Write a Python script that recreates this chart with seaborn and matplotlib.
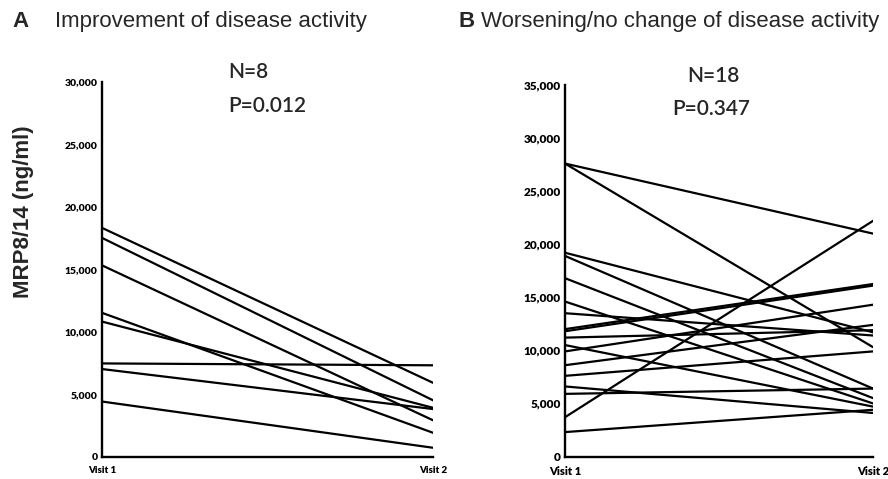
import matplotlib
matplotlib.use("Agg")
import matplotlib.pyplot as plt
import matplotlib.ticker as mticker
import seaborn as sns
import pandas as pd

# ---------------- data ----------------
visits = ["Visit 1", "Visit 2"]

a_visit1 = [18300, 17500, 15300, 11500, 10800, 7450, 7000, 4400]
a_visit2 = [5900, 4500, 2900, 1900, 3900, 7300, 3800, 700]

b_visit1 = [27600, 27600, 19200, 18900, 16800, 14600, 13500, 11800, 12000,
            11200, 10500, 9900, 8600, 7600, 6600, 5900, 3700, 2300]
b_visit2 = [21000, 10300, 11700, 6400, 5500, 5000, 11400, 16100, 16250,
            11900, 4700, 14300, 12400, 9900, 4100, 6400, 22200, 4400]

a_title = "Improvement of disease activity"
b_title = "Worsening/no change of disease activity"
a_stats = ["N=8", "P=0.012"]
b_stats = ["N=18", "P=0.347"]
y_label = "MRP8/14 (ng/ml)"
a_yticks = [0, 5000, 10000, 15000, 20000, 25000, 30000]
b_yticks = [0, 5000, 10000, 15000, 20000, 25000, 30000, 35000]


def long_df(v1, v2):
    rows = []
    for i, (p, q) in enumerate(zip(v1, v2)):
        rows.append({"subject": i, "visit": 0, "value": p})
        rows.append({"subject": i, "visit": 1, "value": q})
    return pd.DataFrame(rows)


sns.set_style("white")
plt.rcParams["font.family"] = ["Lato", "DejaVu Sans"]

W, H = 888, 479
fig = plt.figure(figsize=(W / 100, H / 100), dpi=100)


def fx(px):
    return px / W


def fy(py):
    return 1 - py / H


axA = fig.add_axes([fx(102), fy(456.5), fx(433 - 102), (456.5 - 81.7) / H])
axB = fig.add_axes([fx(565), fy(456.5), fx(873 - 565), (456.5 - 85) / H])


def style(ax, df, yticks, fs, xfs):
    sns.lineplot(data=df, x="visit", y="value", units="subject",
                 estimator=None, color="black", lw=1.6, ax=ax, legend=False)
    ax.set_xlim(0, 1)
    ax.set_ylim(0, yticks[-1])
    ax.set_yticks(yticks)
    ax.yaxis.set_major_formatter(mticker.FuncFormatter(lambda v, p: f"{int(v):,}"))
    ax.set_xticks([0, 1])
    ax.set_xticklabels(visits)
    ax.set_xlabel("")
    ax.set_ylabel("")
    for s in ["top", "right"]:
        ax.spines[s].set_visible(False)
    for s in ["left", "bottom"]:
        ax.spines[s].set_linewidth(1.7)
        ax.spines[s].set_color("black")
    ax.tick_params(axis="both", direction="inout", length=4, width=1.4,
                   colors="black", labelsize=fs, pad=1)
    ax.tick_params(axis="x", labelsize=xfs, pad=5)
    for lab in ax.get_yticklabels() + ax.get_xticklabels():
        lab.set_fontweight("heavy")
    ax.patch.set_alpha(0)


style(axA, long_df(a_visit1, a_visit2), a_yticks, 7.5, 7)
style(axB, long_df(b_visit1, b_visit2), b_yticks, 8.5, 8)

title_font = ["Liberation Sans", "DejaVu Sans"]
fig.text(fx(12), fy(26.7), "A", fontsize=16, fontweight="bold",
         family=title_font, va="baseline")
fig.text(fx(55), fy(26.7), a_title, fontsize=16, family=title_font, va="baseline")
fig.text(fx(458), fy(26.7), "B", fontsize=16, fontweight="bold",
         family=title_font, va="baseline")
fig.text(fx(481), fy(26.7), b_title, fontsize=16, family=title_font, va="baseline")

fig.text(fx(228), fy(78.3), a_stats[0], fontsize=15, fontweight="semibold",
         va="baseline", ha="left")
fig.text(fx(228), fy(111.5), a_stats[1], fontsize=15, fontweight="semibold",
         va="baseline", ha="left")
fig.text(fx(713), fy(81.7), b_stats[0], fontsize=15, fontweight="semibold",
         va="baseline", ha="center")
fig.text(fx(711), fy(115), b_stats[1], fontsize=15, fontweight="semibold",
         va="baseline", ha="center")

fig.text(fx(23), fy(211.5), y_label, rotation=90, fontsize=16, fontweight="bold",
         family=title_font, ha="center", va="center")

fig.savefig("out.png", dpi=100, facecolor="white")
